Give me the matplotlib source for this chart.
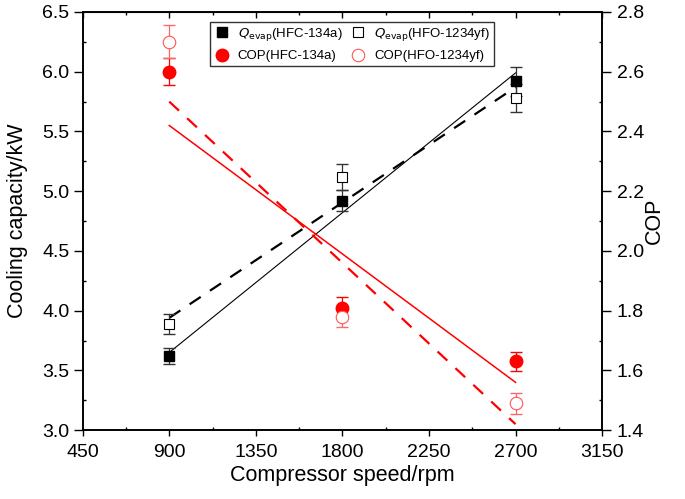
import numpy as np
import matplotlib.pyplot as plt
from matplotlib.ticker import MultipleLocator

plt.rcParams['font.family'] = ['Liberation Sans', 'DejaVu Sans']

# Data
speed = [900, 1800, 2700]
q_hfc = [3.62, 4.92, 5.92]
q_hfc_err = [0.07, 0.09, 0.12]
q_hfo = [3.89, 5.12, 5.78]
q_hfo_err = [0.085, 0.11, 0.12]
cop_hfc = [2.60, 1.81, 1.63]
cop_hfc_err = [0.045, 0.035, 0.033]
cop_hfo = [2.70, 1.78, 1.49]
cop_hfo_err = [0.055, 0.035, 0.035]

# fitted lines, read at the two end speeds
fit_speed = [900, 2700]
q_hfc_fit = [3.65, 5.99]
q_hfo_fit = [3.94, 5.87]
cop_hfc_fit = [2.42, 1.56]
cop_hfo_fit = [2.50, 1.42]

fig = plt.figure(figsize=(6.85, 4.99), dpi=100)
ax = fig.add_axes([0.1207, 0.138, 0.879 - 0.1207, 0.976 - 0.138])
ax2 = ax.twinx()

# Cooling capacity
ax.plot(fit_speed, q_hfc_fit, color="black", lw=0.8)
ax.plot(fit_speed, q_hfo_fit, color="black", lw=1.6, dashes=(6, 5))
ax.errorbar(speed, q_hfc, yerr=q_hfc_err, fmt="none", ecolor="#333333", elinewidth=0.9, capsize=4)
ax.errorbar(speed, q_hfo, yerr=q_hfo_err, fmt="none", ecolor="#333333", elinewidth=0.9, capsize=4)
h1, = ax.plot(speed, q_hfc, "s", color="black", ms=7.5, label=r"$Q_{\rm evap}$(HFC-134a)")
h2, = ax.plot(speed, q_hfo, "s", mfc="white", mec="black", mew=0.8, ms=7.5,
              label=r"$Q_{\rm evap}$(HFO-1234yf)")

# COP
ax2.plot(fit_speed, cop_hfc_fit, color="red", lw=1.1)
ax2.plot(fit_speed, cop_hfo_fit, color="red", lw=1.6, dashes=(6, 5))
ax2.errorbar(speed, cop_hfc, yerr=cop_hfc_err, fmt="none", ecolor="red", elinewidth=0.9, capsize=4)
ax2.errorbar(speed, cop_hfo, yerr=cop_hfo_err, fmt="none", ecolor="#ff6666", elinewidth=0.9, capsize=4)
h3, = ax2.plot(speed, cop_hfc, "o", color="red", ms=9, label="COP(HFC-134a)")
h4, = ax2.plot(speed, cop_hfo, "o", mfc="white", mec="#ff5555", mew=0.8, ms=9,
               label="COP(HFO-1234yf)")

ax.set_xlim(450, 3150)
ax.set_ylim(3.0, 6.5)
ax2.set_ylim(1.4, 2.8)

ax.xaxis.set_major_locator(MultipleLocator(450))
ax.xaxis.set_minor_locator(MultipleLocator(225))
ax.yaxis.set_major_locator(MultipleLocator(0.5))
ax.yaxis.set_minor_locator(MultipleLocator(0.25))
ax.yaxis.set_major_formatter(plt.FormatStrFormatter("%.1f"))
ax2.yaxis.set_major_locator(MultipleLocator(0.2))
ax2.yaxis.set_minor_locator(MultipleLocator(0.1))

ax.tick_params(axis="x", which="major", direction="out", length=4, width=1, labelsize=14, pad=6)
ax.tick_params(axis="y", which="major", direction="out", length=6.5, width=1, labelsize=14, pad=3)
ax.tick_params(which="minor", direction="in", length=2.5, width=1)
ax2.tick_params(which="major", direction="out", length=6.5, width=1, labelsize=14, pad=4)
ax2.tick_params(which="minor", direction="in", length=2.5, width=1)

top = ax.secondary_xaxis("top")
top.xaxis.set_major_locator(MultipleLocator(450))
top.xaxis.set_minor_locator(MultipleLocator(225))
top.tick_params(which="both", direction="in", labeltop=False, width=1)
top.tick_params(which="major", length=4)
top.tick_params(which="minor", length=2.5)

for a in (ax, ax2):
    for s in a.spines.values():
        s.set_linewidth(1.2)

ax.set_xlabel("Compressor speed/rpm", fontsize=15.5, labelpad=3)
ax.set_ylabel("Cooling capacity/kW", fontsize=15.5, labelpad=10)
ax2.set_ylabel("COP", fontsize=15.5, labelpad=0)

leg = ax2.legend(handles=[h1, h3, h2, h4], ncol=2, loc="upper left",
                 bbox_to_anchor=(210 / 685, 1 - 22 / 499), bbox_transform=fig.transFigure,
                 borderaxespad=0, fontsize=9.5, fancybox=False, edgecolor="#333333",
                 framealpha=1, handlelength=1.2, handletextpad=0.6, columnspacing=0.6,
                 labelspacing=0.55, borderpad=0.3)
leg.get_frame().set_linewidth(1.0)

fig.savefig("out.png", dpi=100)
